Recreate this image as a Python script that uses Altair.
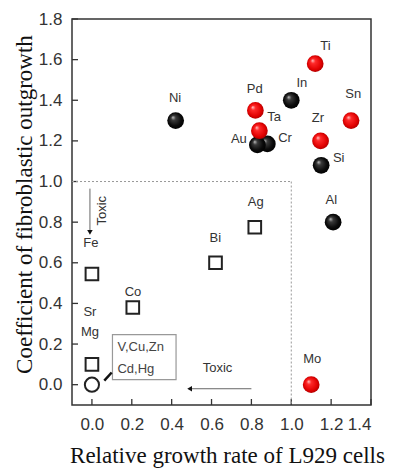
import altair as alt
import pandas as pd

# ---------------- data ----------------
black_el = ["Ni", "In", "Cr", "Si", "Al", "Au"]
black_x = [0.42, 1.00, 0.88, 1.15, 1.21, 0.83]
black_y = [1.30, 1.40, 1.185, 1.08, 0.80, 1.18]
black_lx = [0.417, 1.053, 0.969, 1.238, 1.201, 0.737]
black_ly = [1.413, 1.487, 1.216, 1.118, 0.909, 1.209]

red_el = ["Ti", "Pd", "Ta", "Zr", "Sn", "Mo"]
red_x = [1.12, 0.82, 0.84, 1.147, 1.30, 1.10]
red_y = [1.58, 1.35, 1.25, 1.20, 1.30, 0.00]
red_lx = [1.171, 0.817, 0.914, 1.134, 1.311, 1.105]
red_ly = [1.667, 1.454, 1.318, 1.315, 1.433, 0.126]

sq_el = ["Fe", "Co", "Bi", "Ag", "Mg"]
sq_x = [0.0, 0.205, 0.62, 0.817, 0.0]
sq_y = [0.545, 0.38, 0.60, 0.775, 0.10]

sq_lab = ["Fe", "Co", "Bi", "Ag", "Sr", "Mg"]
sq_lx = [-0.005, 0.206, 0.619, 0.822, -0.01, -0.01]
sq_ly = [0.695, 0.454, 0.722, 0.900, 0.36, 0.257]

circ_x = [0.0]
circ_y = [0.0]

x_ticks = [0.0, 0.2, 0.4, 0.6, 0.8, 1.0, 1.2, 1.4]
y_ticks = [0.0, 0.2, 0.4, 0.6, 0.8, 1.0, 1.2, 1.4, 1.6, 1.8]

# annotation geometry (data units)
hdash_x, hdash_x2, hdash_y = [-0.1], [1.0], [1.0]
vdash_x, vdash_y, vdash_y2 = [1.0], [1.0], [-0.1]
varrow_x, varrow_y, varrow_y2 = [-0.01], [0.965], [0.76]
vhead_x, vhead_y = [-0.01], [0.75]
vtoxic_x, vtoxic_y = [0.05], [0.856]
harrow_x, harrow_x2, harrow_y = [0.80], [0.50], [-0.02]
hhead_x, hhead_y = [0.49], [-0.02]
htoxic_x, htoxic_y = [0.63], [0.084]
box_x, box_x2, box_y, box_y2 = [0.103], [0.422], [0.025], [0.246]
box_text = ["V,Cu,Zn", "Cd,Hg"]
box_tx = [0.128, 0.128]
box_ty = [0.187, 0.079]
ptr_x, ptr_x2, ptr_y, ptr_y2 = [0.099], [0.062], [0.06], [0.02]

# ---------------- chart ----------------
W, H = 299, 386
xs = alt.Scale(domain=[-0.1, 1.4], nice=False, zero=False)
ys = alt.Scale(domain=[-0.1, 1.8], nice=False, zero=False)

ax_x = alt.Axis(values=x_ticks, format=".1f", title="Relative growth rate of L929 cells",
                titleFont="Liberation Serif", titleFontSize=23, titleFontWeight="normal",
                titleColor="#111", labelFont="Liberation Sans", labelFontSize=17,
                labelColor="#333", tickSize=0, domain=False, grid=False, labelPadding=11,
                titleX=155, titleY=57, titleBaseline="alphabetic", titleAlign="center")
ax_y = alt.Axis(values=y_ticks, format=".1f", title="Coefficient of fibroblastic outgrowth",
                titleFont="Liberation Serif", titleFontSize=23, titleFontWeight="normal",
                titleColor="#111", labelFont="Liberation Sans", labelFontSize=17,
                labelColor="#333", tickSize=0, domain=False, grid=False, labelPadding=10,
                titleX=-41, titleY=185, titleAngle=270, titleBaseline="alphabetic",
                titleAlign="center")


def X(f="x"):
    return alt.X(f + ":Q", scale=xs, axis=ax_x)


def Y(f="y"):
    return alt.Y(f + ":Q", scale=ys, axis=ax_y)


def df(**kw):
    return pd.DataFrame(kw)


black_grad = alt.RadialGradient(
    gradient="radial", x1=0.33, y1=0.3, r1=0, x2=0.5, y2=0.5, r2=0.55,
    stops=[alt.GradientStop(offset=0, color="#c8c8c8"),
           alt.GradientStop(offset=0.25, color="#3a3a3a"),
           alt.GradientStop(offset=0.7, color="#0a0a0a"),
           alt.GradientStop(offset=1, color="#000000")])
red_grad = alt.RadialGradient(
    gradient="radial", x1=0.33, y1=0.3, r1=0, x2=0.5, y2=0.5, r2=0.55,
    stops=[alt.GradientStop(offset=0, color="#ffd0d0"),
           alt.GradientStop(offset=0.25, color="#ff2a2a"),
           alt.GradientStop(offset=0.75, color="#e00000"),
           alt.GradientStop(offset=1, color="#a00000")])

label_font = dict(font="Liberation Sans", fontSize=13, color="#333", baseline="middle", align="center")

layers = []

# inside ticks
layers.append(alt.Chart(df(y=y_ticks)).mark_rule(color="#333", strokeWidth=1.3).encode(
    y=Y(), x=alt.value(0), x2=alt.value(6)))
layers.append(alt.Chart(df(x=x_ticks)).mark_rule(color="#333", strokeWidth=1.3).encode(
    x=X(), y=alt.value(H), y2=alt.value(H - 6)))

# dashed guide lines
layers.append(alt.Chart(df(x=hdash_x, x2=hdash_x2, y=hdash_y)).mark_rule(
    color="#999", strokeWidth=1, strokeDash=[2, 2]).encode(x=X(), x2="x2:Q", y=Y()))
layers.append(alt.Chart(df(x=vdash_x, y=vdash_y, y2=vdash_y2)).mark_rule(
    color="#999", strokeWidth=1, strokeDash=[2, 2]).encode(x=X(), y=Y(), y2="y2:Q"))

# toxic arrows
layers.append(alt.Chart(df(x=varrow_x, y=varrow_y, y2=varrow_y2)).mark_rule(
    color="#666", strokeWidth=1).encode(x=X(), y=Y(), y2="y2:Q"))
layers.append(alt.Chart(df(x=vhead_x, y=vhead_y)).mark_point(
    shape="triangle-down", filled=True, color="#111", size=30, opacity=1).encode(x=X(), y=Y()))
layers.append(alt.Chart(df(x=vtoxic_x, y=vtoxic_y, t=["Toxic"])).mark_text(
    angle=270, **label_font).encode(x=X(), y=Y(), text="t:N"))
layers.append(alt.Chart(df(x=harrow_x, x2=harrow_x2, y=harrow_y)).mark_rule(
    color="#666", strokeWidth=1).encode(x=X(), x2="x2:Q", y=Y()))
layers.append(alt.Chart(df(x=hhead_x, y=hhead_y)).mark_point(
    shape="triangle-left", filled=True, color="#111", size=30, opacity=1).encode(x=X(), y=Y()))
layers.append(alt.Chart(df(x=htoxic_x, y=htoxic_y, t=["Toxic"])).mark_text(
    **label_font).encode(x=X(), y=Y(), text="t:N"))

# legend-like box
layers.append(alt.Chart(df(x=box_x, x2=box_x2, y=box_y, y2=box_y2)).mark_rect(
    fill="white", stroke="#999", strokeWidth=1.2).encode(x=X(), x2="x2:Q", y=Y(), y2="y2:Q"))
layers.append(alt.Chart(df(x=box_tx, y=box_ty, t=box_text)).mark_text(
    font="Liberation Sans", fontSize=13, color="#444", baseline="middle", align="left").encode(
    x=X(), y=Y(), text="t:N"))
layers.append(alt.Chart(df(x=ptr_x, x2=ptr_x2, y=ptr_y, y2=ptr_y2)).mark_rule(
    color="#111", strokeWidth=2.5).encode(x=X(), x2="x2:Q", y=Y(), y2="y2:Q"))

# open squares and circle
layers.append(alt.Chart(df(x=sq_x, y=sq_y, el=sq_el)).mark_point(
    shape="square", filled=False, color="#222", strokeWidth=2, size=160, opacity=1).encode(x=X(), y=Y()))
layers.append(alt.Chart(df(x=circ_x, y=circ_y)).mark_point(
    shape="circle", filled=False, color="#222", strokeWidth=2, size=200, opacity=1).encode(x=X(), y=Y()))

# spheres
layers.append(alt.Chart(df(x=black_x, y=black_y, el=black_el)).mark_point(
    shape="circle", filled=True, fill=black_grad, size=280, opacity=1, strokeWidth=0).encode(x=X(), y=Y()))
layers.append(alt.Chart(df(x=red_x, y=red_y, el=red_el)).mark_point(
    shape="circle", filled=True, fill=red_grad, size=280, opacity=1, strokeWidth=0).encode(x=X(), y=Y()))

# element labels
layers.append(alt.Chart(df(x=black_lx, y=black_ly, t=black_el)).mark_text(**label_font).encode(
    x=X(), y=Y(), text="t:N"))
layers.append(alt.Chart(df(x=red_lx, y=red_ly, t=red_el)).mark_text(**label_font).encode(
    x=X(), y=Y(), text="t:N"))
layers.append(alt.Chart(df(x=sq_lx, y=sq_ly, t=sq_lab)).mark_text(**label_font).encode(
    x=X(), y=Y(), text="t:N"))

chart = alt.layer(*layers).properties(
    width=W, height=H,
    autosize=alt.AutoSizeParams(type="none"),
    padding={"left": 64, "top": 11, "right": 16, "bottom": 63},
    background="white",
).configure_view(stroke="#333", strokeWidth=1.5)

chart.save("out.html", embed_options={"renderer": "svg", "actions": False})
